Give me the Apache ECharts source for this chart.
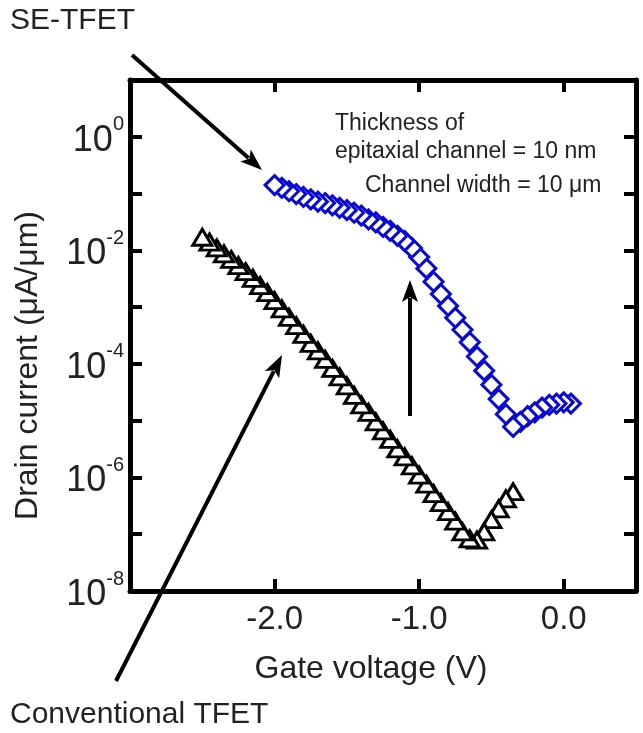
<!DOCTYPE html>
<html>
<head>
<meta charset="utf-8">
<script src="https://cdn.jsdelivr.net/npm/echarts@6/dist/echarts.min.js"></script>
<style>
html, body { margin: 0; padding: 0; background: #fff; }
#main { width: 643px; height: 733px; }
</style>
</head>
<body>
<div id="main"></div>
<script>
// SE-TFET (blue diamonds), sweep from 0.05 V down to -2.0 V
var seVoltage = [0.05, 0.00, -0.05, -0.10, -0.15, -0.20, -0.25, -0.30, -0.35, -0.40,
    -0.45, -0.50, -0.55, -0.60, -0.65, -0.70, -0.75, -0.80, -0.85, -0.90,
    -0.95, -1.00, -1.05, -1.10, -1.15, -1.20, -1.25, -1.30, -1.35, -1.40,
    -1.45, -1.50, -1.55, -1.60, -1.65, -1.70, -1.75, -1.80, -1.85, -1.90,
    -1.95, -2.00]
var seCurrent = [2.0e-5, 2.1e-5, 2.0e-5, 1.9e-5, 1.7e-5, 1.4e-5, 1.2e-5, 9.5e-6, 7.8e-6, 1.3e-5,
    2.4e-5, 4.3e-5, 7.6e-5, 1.35e-4, 2.4e-4, 4.0e-4, 6.5e-4, 1.05e-3, 1.7e-3, 2.8e-3,
    4.8e-3, 7.6e-3, 1.1e-2, 1.45e-2, 1.8e-2, 2.2e-2, 2.6e-2, 3.1e-2, 3.5e-2, 4.1e-2,
    4.6e-2, 5.1e-2, 5.6e-2, 6.2e-2, 6.8e-2, 7.2e-2, 7.9e-2, 8.7e-2, 9.8e-2, 1.1e-1,
    1.26e-1, 1.41e-1]

// Conventional TFET (black triangles), sweep from -0.35 V down to -2.5 V
var convVoltage = [-0.35, -0.40, -0.45, -0.50, -0.55, -0.60, -0.65, -0.70, -0.75, -0.80,
    -0.85, -0.90, -0.95, -1.00, -1.05, -1.10, -1.15, -1.20, -1.25, -1.30,
    -1.35, -1.40, -1.45, -1.50, -1.55, -1.60, -1.65, -1.70, -1.75, -1.80,
    -1.85, -1.90, -1.95, -2.00, -2.05, -2.10, -2.15, -2.20, -2.25, -2.30,
    -2.35, -2.40, -2.45, -2.50]
var convCurrent = [5.6e-7, 4.2e-7, 2.8e-7, 1.8e-7, 1.1e-7, 7.9e-8, 8.3e-8, 1.1e-7, 1.7e-7, 2.5e-7,
    3.6e-7, 5.2e-7, 7.6e-7, 1.1e-6, 1.6e-6, 2.3e-6, 3.2e-6, 4.7e-6, 6.6e-6, 9.5e-6,
    1.4e-5, 1.9e-5, 2.8e-5, 4.1e-5, 5.9e-5, 8.3e-5, 1.2e-4, 1.7e-4, 2.3e-4, 3.3e-4,
    4.7e-4, 6.6e-4, 9.3e-4, 1.3e-3, 1.8e-3, 2.4e-3, 3.2e-3, 4.2e-3, 5.4e-3, 6.9e-3,
    8.7e-3, 1.1e-2, 1.4e-2, 1.7e-2]

// tick labels
var xTicks = [-2, -1, 0]
var xTickLabels = ['-2.0', '-1.0', '0.0']
var yLabelExps = [-8, -6, -4, -2, 0]

var pairs = function(xs, ys) {
    var out = []
    for (var i = 0; i < xs.length; i++) {
        out.push([xs[i], ys[i]])
    }
    return out
}

// arrow = line + filled head
var arrow = function(x1, y1, x2, y2) {
    var dx = x2 - x1
    var dy = y2 - y1
    var len = Math.sqrt(dx * dx + dy * dy)
    var ux = dx / len
    var uy = dy / len
    var hl = 22
    var hw = 8
    var bx = x2 - ux * hl
    var by = y2 - uy * hl
    return [
        {
            type: 'line',
            shape: { x1: x1, y1: y1, x2: bx + ux * 4, y2: by + uy * 4 },
            style: { stroke: '#000', lineWidth: 4 }
        },
        {
            type: 'polygon',
            shape: { points: [[x2, y2], [bx - uy * hw, by + ux * hw], [bx + ux * 5, by + uy * 5], [bx + uy * hw, by - ux * hw]] },
            style: { fill: '#000' }
        }
    ]
}

var numFont = 'Liberation Sans, Arial, sans-serif'
var txtColor = '#222'

var graphics = [].concat(
    arrow(132, 55, 262, 170),
    arrow(116, 681, 282, 355),
    arrow(410, 416, 410, 280),
    [
        { type: 'text', left: 10, top: 6, style: { text: 'SE-TFET', font: '30px ' + numFont, fill: txtColor } },
        { type: 'text', left: 10, top: 700, style: { text: 'Conventional TFET', font: '30px ' + numFont, fill: txtColor } },
        { type: 'text', left: 335, top: 112, style: { text: 'Thickness of', font: '23px ' + numFont, fill: txtColor } },
        { type: 'text', left: 335, top: 140, style: { text: 'epitaxial channel = 10 nm', font: '23px ' + numFont, fill: txtColor } },
        { type: 'text', left: 365, top: 174, style: { text: 'Channel width = 10 μm', font: '23px ' + numFont, fill: txtColor } }
    ]
)

var myChart = echarts.init(document.querySelector('#main'))

var axisLineStyle = { onZero: false, lineStyle: { color: '#000', width: 5 } }
var tickStyle = { show: true, inside: true, length: 12, lineStyle: { color: '#000', width: 4 } }

var option = {
    animation: false,
    backgroundColor: '#fff',
    grid: { left: 130, right: 7, top: 80, bottom: 142 },
    xAxis: [
        {
            type: 'value',
            min: -3,
            max: 0.5,
            interval: 1,
            position: 'bottom',
            axisLine: axisLineStyle,
            axisTick: tickStyle,
            splitLine: { show: false },
            axisLabel: {
                margin: 12,
                fontSize: 33,
                fontFamily: numFont,
                color: txtColor,
                formatter: function(v) {
                    var i = xTicks.indexOf(v)
                    return i >= 0 ? xTickLabels[i] : ''
                }
            },
            name: 'Gate voltage (V)',
            nameLocation: 'middle',
            nameGap: 62,
            nameTextStyle: { fontSize: 32, fontFamily: numFont, color: txtColor, padding: [0, 24, 0, 0] }
        },
        {
            type: 'value',
            min: -3,
            max: 0.5,
            interval: 1,
            position: 'top',
            axisLine: axisLineStyle,
            axisTick: tickStyle,
            splitLine: { show: false },
            axisLabel: { show: false }
        }
    ],
    yAxis: [
        {
            type: 'log',
            logBase: 10,
            min: 1e-8,
            max: 10,
            interval: 1,
            position: 'left',
            axisLine: axisLineStyle,
            axisTick: tickStyle,
            splitLine: { show: false },
            axisLabel: {
                margin: 6,
                color: txtColor,
                formatter: function(v) {
                    var e = Math.round(Math.log10(v))
                    if (yLabelExps.indexOf(e) < 0) return ''
                    return '{b|10}{s|' + e + '}'
                },
                rich: {
                    b: { fontSize: 36, fontFamily: numFont, color: txtColor, lineHeight: 44, verticalAlign: 'bottom' },
                    s: { fontSize: 20, fontFamily: numFont, color: txtColor, lineHeight: 44, verticalAlign: 'top' }
                }
            },
            name: 'Drain current (μA/μm)',
            nameLocation: 'middle',
            nameGap: 86,
            nameTextStyle: { fontSize: 32, fontFamily: numFont, color: txtColor, padding: [0, 60, 0, 0] }
        },
        {
            type: 'log',
            logBase: 10,
            min: 1e-8,
            max: 10,
            interval: 1,
            position: 'right',
            axisLine: axisLineStyle,
            axisTick: tickStyle,
            splitLine: { show: false },
            axisLabel: { show: false }
        }
    ],
    series: [
        {
            name: 'Conventional TFET',
            type: 'scatter',
            symbol: 'triangle',
            symbolSize: [19, 16],
            itemStyle: { color: '#fff', borderColor: '#000', borderWidth: 3, opacity: 1 },
            data: pairs(convVoltage, convCurrent)
        },
        {
            name: 'SE-TFET',
            type: 'scatter',
            symbol: 'diamond',
            symbolSize: [19, 19],
            itemStyle: { color: '#fff', borderColor: '#0808d8', borderWidth: 3, opacity: 1 },
            data: pairs(seVoltage, seCurrent)
        }
    ],
    graphic: graphics
}

myChart.setOption(option)
</script>
</body>
</html>
